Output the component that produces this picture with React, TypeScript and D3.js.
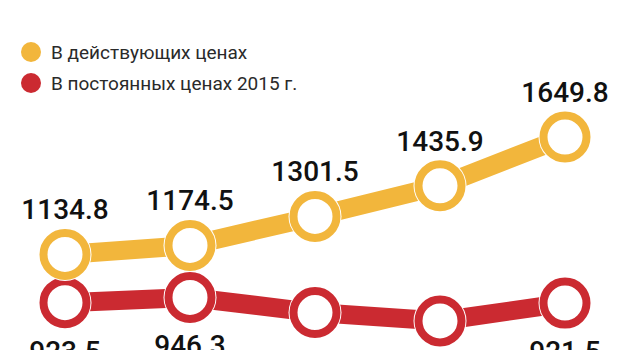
import React from "react";
import * as d3 from "d3";

const categories = ["P1", "P2", "P3", "P4", "P5"];
const currentPrices = [1134.8, 1174.5, 1301.5, 1435.9, 1649.8];
const constantPrices = [923.5, 946.3, 880.0, 843.0, 921.5];
const seriesNames = ["В действующих ценах", "В постоянных ценах 2015 г."];
const seriesColors = ["#F2B63C", "#CB2A31"];

const W = 630;
const H = 350;

export default function App() {
  const x = d3.scalePoint<string>().domain(categories).range([65, 565]);
  const y = d3.scaleLinear().domain([800, 1700]).range([330.8, 125.6]);
  const line = d3
    .line<number>()
    .x((_, i) => x(categories[i]) as number)
    .y((d) => y(d));

  const series = [
    { name: seriesNames[1], color: seriesColors[1], values: constantPrices, below: true },
    { name: seriesNames[0], color: seriesColors[0], values: currentPrices, below: false },
  ];

  const numFont = "Roboto, 'DejaVu Sans', sans-serif";

  return (
    <svg
      width={W}
      height={H}
      viewBox={`0 0 ${W} ${H}`}
      style={{ position: "absolute", left: 0, top: 0, display: "block", background: "#fff" }}
    >
      <rect x={0} y={0} width={W} height={H} fill="#fff" />
      {seriesNames.map((n, i) => (
        <g key={n} transform={`translate(0, ${52 + i * 31})`}>
          <circle cx={31} cy={0} r={10} fill={seriesColors[i]} />
          <text x={51} y={6.5} fontFamily={numFont} fontSize={19} fill="#2a2a2a">
            {n}
          </text>
        </g>
      ))}
      {series.map((s) => (
        <g key={s.name}>
          <path
            d={line(s.values) || ""}
            fill="none"
            stroke={s.color}
            strokeWidth={19}
            strokeLinejoin="round"
          />
          {s.values.map((v, i) => (
            <g key={i}>
              <circle cx={x(categories[i])} cy={y(v)} r={26.5} fill="#fff" />
              <circle
                cx={x(categories[i])}
                cy={y(v)}
                r={21.5}
                fill="#fff"
                stroke={s.color}
                strokeWidth={8}
              />
            </g>
          ))}
          {s.values.map((v, i) => (
            <text
              key={"t" + i}
              x={x(categories[i])}
              y={s.below ? y(v) + 58 : y(v) - 35}
              textAnchor="middle"
              fontFamily={numFont}
              fontSize={28}
              fontWeight={500}
              fill="#111"
            >
              {v.toFixed(1)}
            </text>
          ))}
        </g>
      ))}
    </svg>
  );
}
